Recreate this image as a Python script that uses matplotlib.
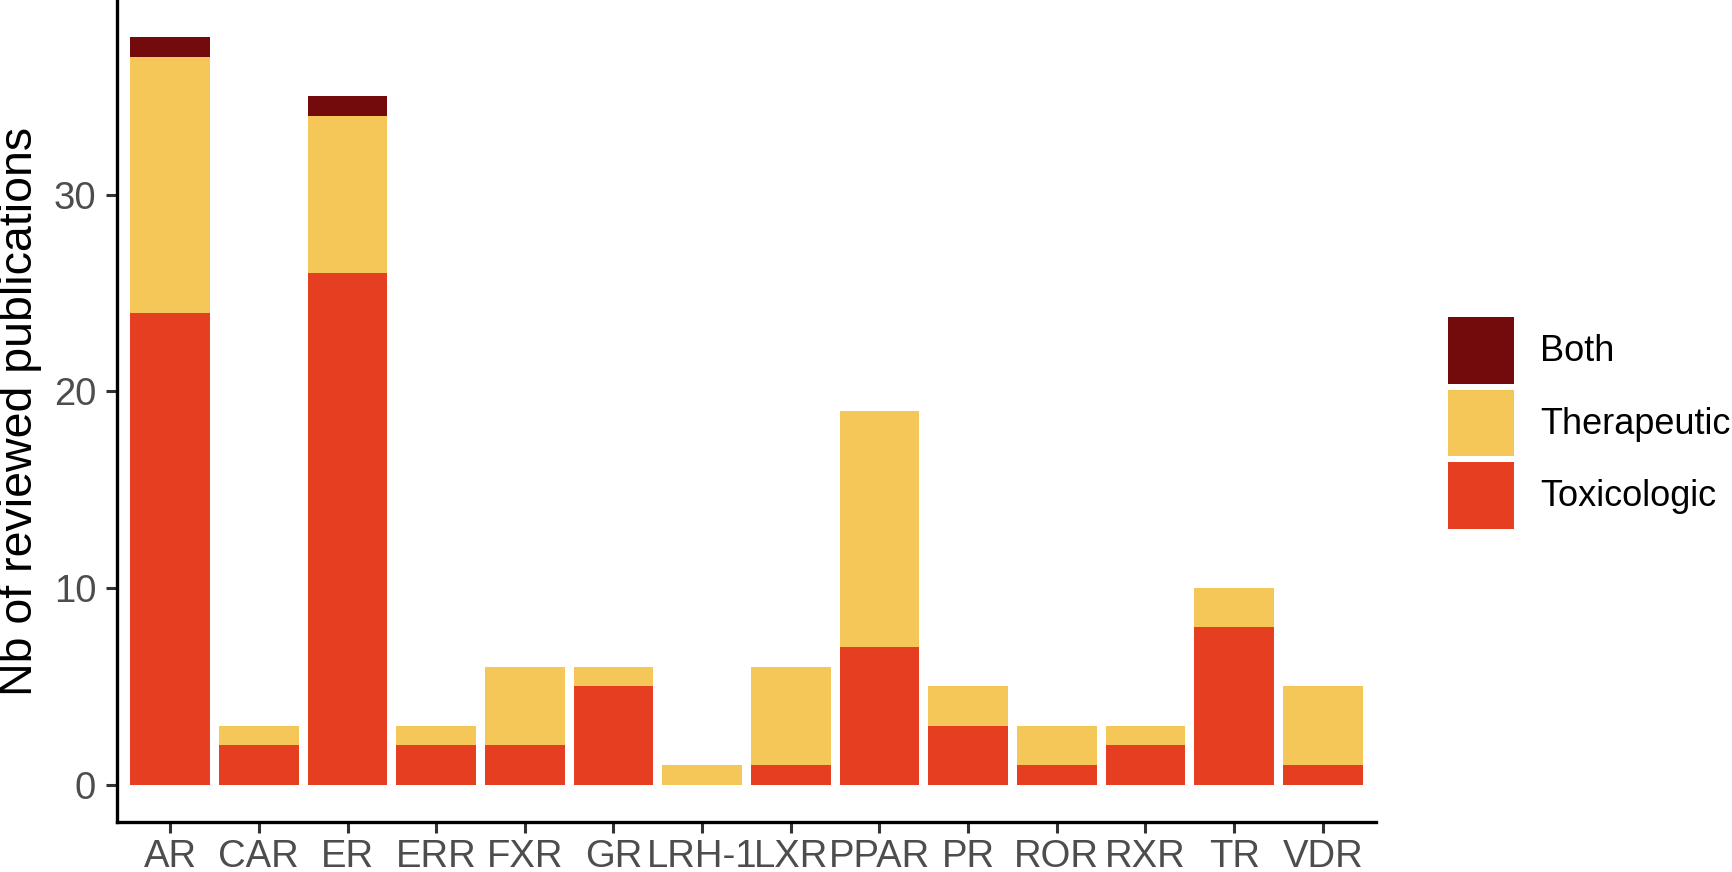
import matplotlib
matplotlib.use('Agg')
import matplotlib.pyplot as plt
from matplotlib.patches import Patch
import numpy as np

plt.rcParams['font.family'] = ['Liberation Sans', 'DejaVu Sans']

receptors = ["AR", "CAR", "ER", "ERR", "FXR", "GR", "LRH-1", "LXR", "PPAR",
             "PR", "ROR", "RXR", "TR", "VDR"]
toxicologic = [24, 2, 26, 2, 2, 5, 0, 1, 7, 3, 1, 2, 8, 1]
therapeutic = [13, 1, 8, 1, 4, 1, 1, 5, 12, 2, 2, 1, 2, 4]
both = [1, 0, 1, 0, 0, 0, 0, 0, 0, 0, 0, 0, 0, 0]

colors = {"Toxicologic": "#E63E20", "Therapeutic": "#F4C758", "Both": "#730A0B"}

fig = plt.figure(figsize=(17.33, 8.72), dpi=100)
ax = fig.add_axes([0.0675, 0.0573, 0.7265, 0.9427])

x = np.arange(len(receptors))
tox = np.array(toxicologic)
ther = np.array(therapeutic)
bo = np.array(both)

ax.bar(x, tox, width=0.9, color=colors["Toxicologic"], linewidth=0)
ax.bar(x, ther, width=0.9, bottom=tox, color=colors["Therapeutic"], linewidth=0)
ax.bar(x, bo, width=0.9, bottom=tox + ther, color=colors["Both"], linewidth=0)

ax.set_xlim(-0.6, len(receptors) - 0.4)
ax.set_ylim(-1.9, 39.9)
ax.set_xticks(x)
ax.set_xticklabels(receptors)
ax.set_yticks([0, 10, 20, 30])

ax.tick_params(axis="both", labelsize=27.5, labelcolor="#4D4D4D", color="#333333",
               width=2.2, length=8)
ax.tick_params(axis="x", pad=4)
ax.tick_params(axis="y", pad=7)

ax.set_ylabel("Nb of reviewed publications", fontsize=33.5, color="black", labelpad=8)

for side in ["top", "right"]:
    ax.spines[side].set_visible(False)
for side in ["left", "bottom"]:
    ax.spines[side].set_linewidth(2.4)
    ax.spines[side].set_color("black")

handles = [Patch(facecolor=colors[k], edgecolor="none") for k in ["Both", "Therapeutic", "Toxicologic"]]
fig.legend(handles, ["Both", "Therapeutic", "Toxicologic"], loc="center left",
           bbox_to_anchor=(0.8355, 0.515), frameon=False, fontsize=26,
           handlelength=1.83, handleheight=2.45, labelspacing=0.17,
           handletextpad=0.72, borderpad=0, borderaxespad=0)

fig.savefig("out.png", dpi=100, facecolor="white")
